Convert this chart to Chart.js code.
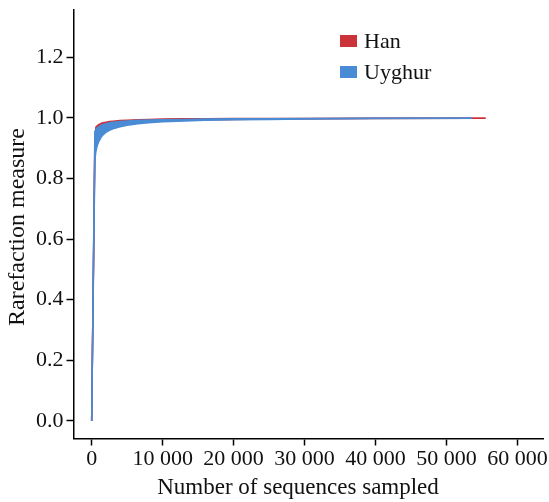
<!DOCTYPE html>
<html>
<head>
<meta charset="utf-8">
<script src="https://cdn.jsdelivr.net/npm/chart.js@4"></script>
<style>
  html, body { margin: 0; padding: 0; background: #ffffff; }
  canvas { display: block; }
</style>
</head>
<body>
<canvas id="rarefactionChart" width="549" height="502"></canvas>
<script>
const seriesNames = ['Han', 'Uyghur'];
const xTitle = 'Number of sequences sampled';
const yTitle = 'Rarefaction measure';

const hanX = [0, 450, 600, 800, 1000, 1300, 1600, 2000, 2500, 3000, 4000, 5000, 6500, 8000, 10000, 13000, 16000, 20000, 25000, 30000, 40000, 55500];
const hanUpper = [0, 0.93, 0.970, 0.975, 0.978, 0.982, 0.984, 0.986, 0.988, 0.989, 0.991, 0.992, 0.994, 0.995, 0.996, 0.997, 0.997, 0.998, 0.998, 0.998, 0.999, 0.999];
const hanLower = [0, 0.90, 0.94, 0.948, 0.954, 0.96, 0.965, 0.969, 0.973, 0.976, 0.98, 0.983, 0.986, 0.988, 0.99, 0.992, 0.994, 0.995, 0.996, 0.997, 0.998, 0.999];

const uyghurX = [0, 450, 600, 800, 1000, 1300, 1600, 2000, 2500, 3000, 4000, 5000, 6500, 8000, 10000, 13000, 16000, 20000, 25000, 30000, 40000, 53600];
const uyghurUpper = [0, 0.955, 0.962, 0.967, 0.971, 0.975, 0.978, 0.981, 0.984, 0.986, 0.988, 0.990, 0.992, 0.993, 0.994, 0.995, 0.996, 0.997, 0.997, 0.998, 0.999, 0.999];
const uyghurLower = [0, 0.86, 0.89, 0.91, 0.922, 0.935, 0.944, 0.952, 0.959, 0.964, 0.971, 0.976, 0.981, 0.984, 0.987, 0.990, 0.992, 0.994, 0.995, 0.996, 0.998, 0.999];

const xTicks = [0, 10000, 20000, 30000, 40000, 50000, 60000];
const yTicks = [0, 0.2, 0.4, 0.6, 0.8, 1.0, 1.2];

const hanColor = '#cc3338';
const uyghurColor = '#4a8bd5';
const serif = '"Liberation Serif", "Times New Roman", serif';

function toPoints(xs, ys) {
    return xs.map((x, i) => ({x: x, y: ys[i]}));
}

function band(name, xs, ys, color, order, fill) {
    return {
        label: name,
        data: toPoints(xs, ys),
        borderColor: color,
        backgroundColor: color,
        borderWidth: 1.5,
        pointRadius: 0,
        tension: 0,
        fill: fill,
        order: order
    };
}

// legend inside the plot (top right) and the two axis titles
const annotations = {
    id: 'annotations',
    afterDraw(chart) {
        const ctx = chart.ctx;
        const colors = [hanColor, uyghurColor];
        ctx.save();
        ctx.font = '22px ' + serif;
        ctx.textBaseline = 'middle';
        seriesNames.forEach((name, i) => {
            const y = 41 + i * 31;
            ctx.fillStyle = colors[i];
            ctx.fillRect(340, y - 6, 17, 12);
            ctx.fillStyle = '#111';
            ctx.fillText(name, 364, y + 1);
        });

        ctx.textAlign = 'center';
        ctx.font = '23px ' + serif;
        ctx.fillText(xTitle, 298, 488);

        ctx.translate(18, 227);
        ctx.rotate(-Math.PI / 2);
        ctx.font = '24px ' + serif;
        ctx.fillText(yTitle, 0, 0);
        ctx.restore();
    }
};

const ctx = document.getElementById('rarefactionChart').getContext('2d');
const chart = new Chart(ctx, {
    type: 'line',
    data: {
        datasets: [
            band('Han', hanX, hanUpper, hanColor, 2, '+1'),
            band('Han lower', hanX, hanLower, hanColor, 2, false),
            band('Uyghur', uyghurX, uyghurUpper, uyghurColor, 1, '+1'),
            band('Uyghur lower', uyghurX, uyghurLower, uyghurColor, 1, false)
        ]
    },
    options: {
        responsive: false,
        animation: false,
        layout: { padding: { top: 10, right: 6, left: 0, bottom: 0 } },
        plugins: {
            legend: { display: false },
            tooltip: { enabled: false }
        },
        scales: {
            x: {
                type: 'linear',
                min: -2560,
                max: 63600,
                afterBuildTicks: axis => { axis.ticks = xTicks.map(v => ({value: v})); },
                afterFit: axis => {
                    axis.height = 63.5;
                    axis.paddingLeft = 0;
                    axis.paddingRight = 0;
                },
                border: { color: '#000', width: 1.5 },
                grid: { drawOnChartArea: false, color: '#000', tickLength: 7, tickWidth: 1.5 },
                ticks: {
                    color: '#111',
                    padding: 1,
                    maxRotation: 0,
                    font: { family: serif, size: 22 },
                    callback: v => String(v).replace(/\B(?=(\d{3})+(?!\d))/g, ' ')
                }
            },
            y: {
                min: -0.058,
                max: 1.356,
                afterBuildTicks: axis => { axis.ticks = yTicks.map(v => ({value: v})); },
                afterFit: axis => {
                    axis.width = 73.5;
                    axis.paddingTop = 0;
                    axis.paddingBottom = 0;
                },
                border: { color: '#000', width: 1.5 },
                grid: { drawOnChartArea: false, color: '#000', tickLength: 7, tickWidth: 1.5 },
                ticks: {
                    color: '#111',
                    padding: 3,
                    font: { family: serif, size: 22 },
                    callback: v => v.toFixed(1)
                }
            }
        }
    },
    plugins: [annotations]
});
</script>
</body>
</html>
